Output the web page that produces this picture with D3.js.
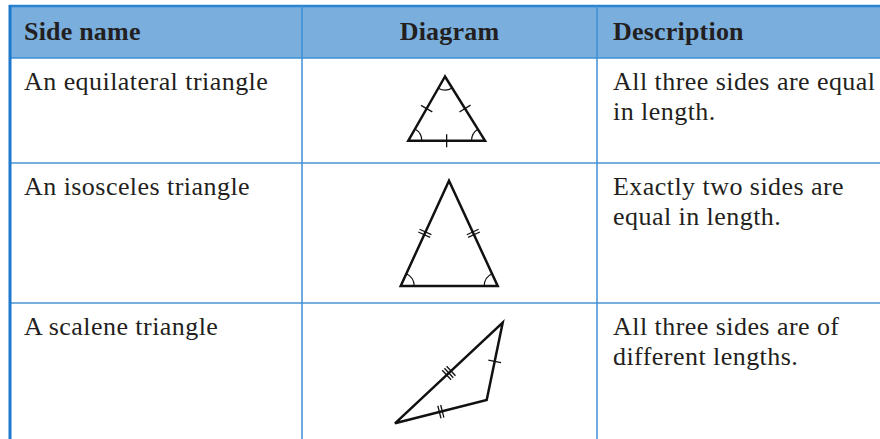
<!DOCTYPE html>
<html>
<head>
    <meta charset="UTF-8">
    <style>
        body { margin: 0; background: #fff; }
        text { font-family: "Liberation Serif", "Times New Roman", serif; fill: #231f20; letter-spacing: 0.45px; }
        .head { font-weight: bold; letter-spacing: 0.2px; }
    </style>
</head>
<body>
    <svg></svg>
    <script src="https://d3js.org/d3.v7.min.js"></script>
    <script>
        let width = 880, height = 439;

        // table content
        let headers = ["Side name", "Diagram", "Description"];
        let sideNames = ["An equilateral triangle", "An isosceles triangle", "A scalene triangle"];
        let descriptions = [
            ["All three sides are equal", "in length."],
            ["Exactly two sides are", "equal in length."],
            ["All three sides are of", "different lengths."]
        ];

        // triangle vertices in cell units (x from cell centre, y from row top)
        let equilateral = [[-4.5, 18.5], [-41.2, 82.7], [35.5, 82.7]];
        let isosceles = [[-0.5, 17.7], [-48.8, 123], [48.2, 123]];
        let scalene = [[53.2, 19.7], [37.2, 97], [-54.5, 120.3]];
        // tick counts per side (side i joins vertex i and i+1)
        let equilateralTicks = [1, 1, 1];
        let isoscelesTicks = [2, 0, 2];
        let scaleneTicks = [1, 2, 3];
        // vertices with an angle arc
        let equilateralArcs = [0, 1, 2];
        let isoscelesArcs = [1, 2];
        let scaleneArcs = [];

        let triangles = [
            { pts: equilateral, ticks: equilateralTicks, arcs: equilateralArcs },
            { pts: isosceles, ticks: isoscelesTicks, arcs: isoscelesArcs },
            { pts: scalene, ticks: scaleneTicks, arcs: scaleneArcs }
        ];

        let svg = d3.select("svg")
            .attr("width", width)
            .attr("height", height);

        let colEdges = [10, 302, 597, 880];
        let rowEdges = [7, 58, 163, 303, 460];
        let blue = "#2a84d2";

        // header band
        svg.append("rect")
            .attr("x", colEdges[0]).attr("y", rowEdges[0])
            .attr("width", width - colEdges[0]).attr("height", rowEdges[1] - rowEdges[0])
            .attr("fill", "#7aaedd");

        // horizontal rules
        svg.selectAll("line.row")
            .data(rowEdges.slice(1, 4))
            .enter().append("line")
            .attr("x1", colEdges[0]).attr("x2", width)
            .attr("y1", d => d).attr("y2", d => d)
            .attr("stroke", (d, i) => i == 0 ? "#3e8fd6" : "#4b93d3")
            .attr("stroke-width", 1.6);

        svg.append("line")
            .attr("x1", colEdges[0] - 1).attr("x2", width)
            .attr("y1", 6).attr("y2", 6)
            .attr("stroke", blue).attr("stroke-width", 2.5);

        // column dividers
        svg.selectAll("line.col")
            .data(colEdges.slice(1, 3))
            .enter().append("line")
            .attr("x1", d => d).attr("x2", d => d)
            .attr("y1", 6).attr("y2", height)
            .attr("stroke", "#3e8fd6").attr("stroke-width", 1.5);

        svg.append("line")
            .attr("x1", colEdges[0]).attr("x2", colEdges[0])
            .attr("y1", 5).attr("y2", height)
            .attr("stroke", "#1c79cc").attr("stroke-width", 3);

        // header text
        svg.selectAll("text.head")
            .data(headers)
            .enter().append("text")
            .attr("class", "head")
            .attr("font-size", 26)
            .attr("x", (d, i) => i == 1 ? (colEdges[1] + colEdges[2]) / 2 : colEdges[i] + (i == 0 ? 14 : 16))
            .attr("y", 40)
            .attr("text-anchor", (d, i) => i == 1 ? "middle" : "start")
            .text(d => d);

        // side names
        svg.selectAll("text.name")
            .data(sideNames)
            .enter().append("text")
            .attr("font-size", 26)
            .attr("x", colEdges[0] + 14)
            .attr("y", (d, i) => rowEdges[i + 1] + 32)
            .text(d => d);

        // descriptions
        descriptions.forEach(function (lines, r) {
            svg.append("g").selectAll("text")
                .data(lines)
                .enter().append("text")
                .attr("font-size", 26)
                .attr("x", colEdges[2] + 16)
                .attr("y", (d, i) => rowEdges[r + 1] + 32 + i * 30)
                .text(d => d);
        });

        // diagrams
        let centre = (colEdges[1] + colEdges[2]) / 2;
        triangles.forEach(function (t, r) {
            let x = d3.scaleLinear().domain([0, 1]).range([centre, centre + 1]);
            let y = d3.scaleLinear().domain([0, 1]).range([rowEdges[r + 1], rowEdges[r + 1] + 1]);
            let p = t.pts.map(d => [x(d[0]), y(d[1])]);
            let g = svg.append("g").attr("fill", "none").attr("stroke", "#111");

            g.append("path")
                .attr("d", d3.line()(p) + "Z")
                .attr("stroke-width", 2.5)
                .attr("stroke-linejoin", "miter");

            // tick marks
            t.ticks.forEach(function (n, s) {
                if (!n) return;
                let a = p[s], b = p[(s + 1) % 3];
                let dx = b[0] - a[0], dy = b[1] - a[1], len = Math.hypot(dx, dy);
                let ux = dx / len, uy = dy / len, nx = -uy, ny = ux;
                let mx = (a[0] + b[0]) / 2, my = (a[1] + b[1]) / 2;
                for (let k = 0; k < n; k++) {
                    let off = (k - (n - 1) / 2) * 3;
                    let cx = mx + ux * off, cy = my + uy * off;
                    g.append("line")
                        .attr("x1", cx - nx * 6.5).attr("y1", cy - ny * 6.5)
                        .attr("x2", cx + nx * 6.5).attr("y2", cy + ny * 6.5)
                        .attr("stroke-width", 1.3);
                }
            });

            // angle arcs
            t.arcs.forEach(function (v) {
                let o = p[v], a = p[(v + 1) % 3], b = p[(v + 2) % 3];
                let a0 = Math.atan2(a[1] - o[1], a[0] - o[0]);
                let a1 = Math.atan2(b[1] - o[1], b[0] - o[0]);
                let diff = a1 - a0;
                while (diff > Math.PI) diff -= 2 * Math.PI;
                while (diff < -Math.PI) diff += 2 * Math.PI;
                let path = d3.path();
                path.arc(o[0], o[1], 13.5, a0, a0 + diff, diff < 0);
                g.append("path").attr("d", path.toString()).attr("stroke-width", 1.2);
            });
        });
    </script>
</body>
</html>
